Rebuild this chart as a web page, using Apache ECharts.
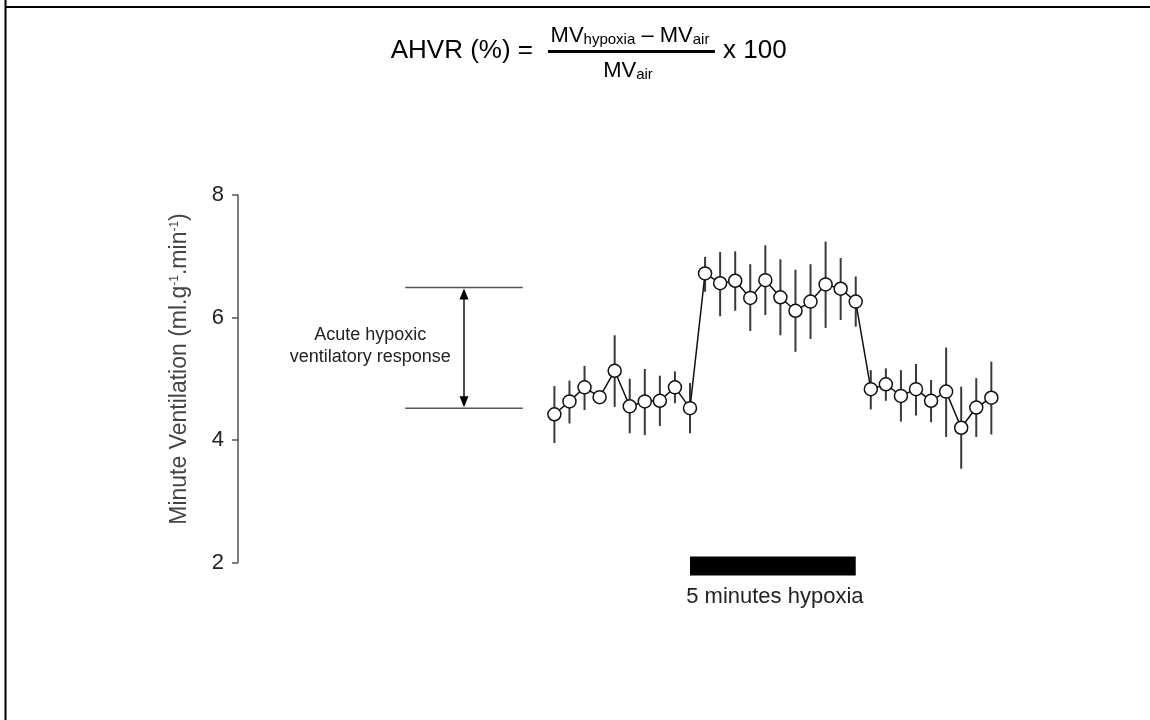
<!DOCTYPE html>
<html><head><meta charset="utf-8">
<script src="https://cdn.jsdelivr.net/npm/echarts@6/dist/echarts.min.js"></script>
<style>html,body{margin:0;padding:0;background:#fff}#c{width:1150px;height:720px}</style>
</head><body><div id="c"></div>
<script>
// ---- data ----
const timePoints = [1,2,3,4,5,6,7,8,9,10,11,12,13,14,15,16,17,18,19,20,21,22,23,24,25,26,27,28,29,30];
const meanMV  = [4.42,4.63,4.86,4.70,5.13,4.55,4.63,4.64,4.86,4.52, 6.72,6.56,6.60,6.32,6.61,6.33,6.11,6.26,6.54,6.47,6.26, 4.83,4.91,4.72,4.83,4.64,4.79,4.20,4.53,4.69];
const upperMV = [4.88,4.97,5.21,4.77,5.71,5.00,5.16,5.05,5.12,4.93, 6.99,7.07,7.08,6.87,7.18,6.95,6.78,6.87,7.24,6.97,6.67, 5.14,5.17,5.14,5.24,4.98,5.51,4.87,5.01,5.28];
const lowerMV = [3.95,4.27,4.49,4.63,4.54,4.11,4.08,4.23,4.60,4.11, 6.42,6.02,6.11,5.78,6.04,5.71,5.44,5.65,5.83,5.96,5.85, 4.50,4.64,4.30,4.40,4.29,4.05,3.53,4.05,4.09];
const yTicks = [2,4,6,8];
const hypoxiaWindow = [10,21];
const ahvrLevels = [4.52,6.49];
const hypoxiaLabel = '5 minutes hypoxia';
const ahvrLabel = 'Acute hypoxic\nventilatory response';
const yAxisName = 'Minute Ventilation (ml.g{s|-1}.min{s|-1})';

const FONT = '"Liberation Sans", Arial, sans-serif';
const chart = echarts.init(document.getElementById('c'), null, {renderer:'canvas'});

const option = {
  animation:false,
  backgroundColor:'#fff',
  grid:{left:238, top:195, width:904, height:367.5, containLabel:false},
  xAxis:{type:'value', min:-20, max:40, show:false},
  yAxis:{type:'value', min:yTicks[0], max:yTicks[yTicks.length-1], interval:2,
    axisLine:{show:true, onZero:false, lineStyle:{color:'#555', width:1.5}},
    axisTick:{show:true, length:6, lineStyle:{color:'#555', width:1.5}},
    axisLabel:{fontSize:22, color:'#222', margin:14, fontFamily:FONT},
    splitLine:{show:false}},
  series:[
    {type:'custom', name:'SEM', z:1,
     data: timePoints.map((t,i)=>[t, lowerMV[i], upperMV[i]]),
     encode:{x:0, y:[1,2]},
     renderItem:(params, api)=>{
       const p1 = api.coord([api.value(0), api.value(1)]);
       const p2 = api.coord([api.value(0), api.value(2)]);
       return {type:'line', shape:{x1:p1[0], y1:p1[1], x2:p2[0], y2:p2[1]}, style:{stroke:'#3a3a3a', lineWidth:2}};
     }},
    {type:'line', name:'MV', z:3,
     data: timePoints.map((t,i)=>[t, meanMV[i]]),
     symbol:'circle', symbolSize:13, showAllSymbol:true,
     lineStyle:{color:'#111', width:1.5},
     itemStyle:{color:'#fff', borderColor:'#111', borderWidth:1.5}},
    {type:'custom', name:'hypoxia', clip:false, z:2,
     data:[hypoxiaWindow],
     encode:{x:[0,1]},
     renderItem:(params, api)=>{
       const ymin = yTicks[0];
       const a = api.coord([api.value(0), ymin]);
       const b = api.coord([api.value(1), ymin]);
       return {type:'group', children:[
         {type:'rect', shape:{x:a[0], y:a[1]-6, width:b[0]-a[0], height:19}, style:{fill:'#000'}},
         {type:'text', style:{text:hypoxiaLabel, x:(a[0]+b[0])/2+2, y:a[1]+23, align:'center', verticalAlign:'top', fontSize:22, fill:'#222', fontFamily:FONT}}
       ]};
     }},
    {type:'custom', name:'ahvr', clip:false, z:2,
     data:[ahvrLevels],
     encode:{y:[0,1]},
     renderItem:(params, api)=>{
       const lo = api.value(0), hi = api.value(1);
       const xl = -8.9, xr = -1.1, xa = -5;
       const L1 = api.coord([xl, hi]), R1 = api.coord([xr, hi]);
       const L0 = api.coord([xl, lo]), R0 = api.coord([xr, lo]);
       const A1 = api.coord([xa, hi]), A0 = api.coord([xa, lo]);
       const ah = 11, aw = 4.5;
       const T = api.coord([-11.22, lo]);
       return {type:'group', children:[
         {type:'line', shape:{x1:L1[0], y1:L1[1], x2:R1[0], y2:R1[1]}, style:{stroke:'#555', lineWidth:1.5}},
         {type:'line', shape:{x1:L0[0], y1:L0[1], x2:R0[0], y2:R0[1]}, style:{stroke:'#555', lineWidth:1.5}},
         {type:'line', shape:{x1:A1[0], y1:A1[1]+ah, x2:A0[0], y2:A0[1]-ah}, style:{stroke:'#111', lineWidth:1.5}},
         {type:'polygon', shape:{points:[[A1[0],A1[1]+1],[A1[0]-aw,A1[1]+ah+1],[A1[0]+aw,A1[1]+ah+1]]}, style:{fill:'#000'}},
         {type:'polygon', shape:{points:[[A0[0],A0[1]-1],[A0[0]-aw,A0[1]-ah-1],[A0[0]+aw,A0[1]-ah-1]]}, style:{fill:'#000'}},
         {type:'text', style:{text:ahvrLabel, x:T[0], y:(A0[1]+A1[1])/2-2, align:'center', verticalAlign:'middle', fontSize:18, lineHeight:22, fill:'#222', fontFamily:FONT}}
       ]};
     }}
  ],
  graphic:[
    {type:'line', shape:{x1:5.5, y1:0, x2:5.5, y2:720}, style:{stroke:'#000', lineWidth:2}},
    {type:'line', shape:{x1:5, y1:7, x2:1150, y2:7}, style:{stroke:'#000', lineWidth:2}},
    {type:'text', x:180, y:369, rotation:Math.PI/2,
     style:{text:yAxisName, align:'center', verticalAlign:'middle', fontSize:23, fill:'#444', fontFamily:FONT,
            rich:{s:{fontSize:12, verticalAlign:'top', fill:'#444', fontFamily:FONT}}}},
    {type:'text', x:533, y:51, style:{text:'AHVR (%) =', align:'right', verticalAlign:'middle', fontSize:26, fill:'#000', fontFamily:FONT}},
    {type:'text', x:630, y:36, style:{text:'MV{s|hypoxia} – MV{s|air}', align:'center', verticalAlign:'middle', fontSize:22, fill:'#000', fontFamily:FONT,
            rich:{s:{fontSize:15, verticalAlign:'bottom', fill:'#000', fontFamily:FONT}}}},
    {type:'rect', shape:{x:548, y:50, width:167, height:3}, style:{fill:'#000'}},
    {type:'text', x:628, y:71, style:{text:'MV{s|air}', align:'center', verticalAlign:'middle', fontSize:22, fill:'#000', fontFamily:FONT,
            rich:{s:{fontSize:15, verticalAlign:'bottom', fill:'#000', fontFamily:FONT}}}},
    {type:'text', x:723, y:51, style:{text:'x 100', align:'left', verticalAlign:'middle', fontSize:26, fill:'#000', fontFamily:FONT}}
  ]
};
chart.setOption(option);
</script>
</body></html>
